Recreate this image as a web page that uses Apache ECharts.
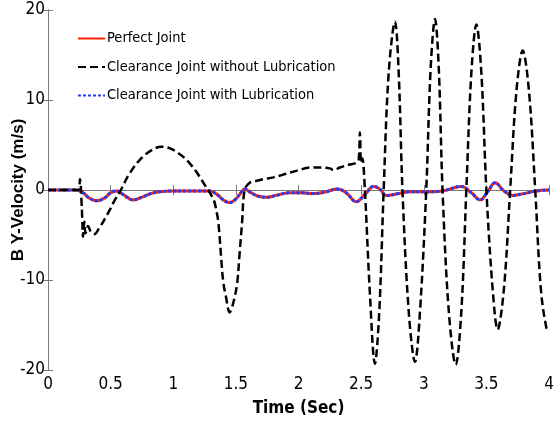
<!DOCTYPE html>
<html>
<head>
<meta charset="utf-8">
<script src="https://cdn.jsdelivr.net/npm/echarts@6/dist/echarts.min.js"></script>
<style>
  html, body { margin: 0; padding: 0; background: #fff; }
  #chart { width: 554px; height: 425px; }
</style>
</head>
<body>
<div id="chart"></div>
<script>
// Time samples (s) and Y-velocity of point B (m/s)
const timePerfect = [0, 0.22, 0.28, 0.33, 0.39, 0.45, 0.50, 0.55, 0.60, 0.68, 0.75, 0.82, 0.89, 1.0, 1.1, 1.2, 1.29, 1.35, 1.40, 1.45, 1.50, 1.54, 1.57, 1.62, 1.68, 1.75, 1.82, 1.93, 2.02, 2.12, 2.22, 2.31, 2.38, 2.46, 2.53, 2.60, 2.65, 2.70, 2.80, 2.89, 3.0, 3.15, 3.30, 3.38, 3.45, 3.51, 3.57, 3.64, 3.71, 3.80, 3.90, 4.0];
const velPerfect  = [0, 0, -0.3, -0.9, -1.2, -0.9, -0.3, -0.1, -0.5, -1.1, -0.8, -0.4, -0.2, -0.1, -0.1, -0.1, -0.1, -0.5, -1.1, -1.4, -1.0, -0.3, 0.1, -0.3, -0.7, -0.8, -0.6, -0.3, -0.3, -0.4, -0.2, 0.1, -0.3, -1.3, -0.5, 0.4, 0.1, -0.6, -0.4, -0.2, -0.2, -0.1, 0.4, -0.3, -1.1, -0.2, 0.8, -0.1, -0.6, -0.4, -0.1, 0];

// Lubricated clearance joint follows the ideal joint response
const timeLub = timePerfect;
const velLub  = velPerfect;

const timeDry = [0, 0.24, 0.255, 0.27, 0.28, 0.29, 0.30, 0.32, 0.34, 0.37, 0.41, 0.45, 0.49, 0.53, 0.57, 0.65, 0.75, 0.85, 0.91, 0.98, 1.05, 1.11, 1.18, 1.25, 1.32, 1.34, 1.36, 1.385, 1.40, 1.42, 1.45, 1.48, 1.51, 1.53, 1.55, 1.57, 1.61, 1.66, 1.72, 1.80, 1.90, 2.00, 2.09, 2.18, 2.25, 2.28, 2.33, 2.40, 2.46, 2.48, 2.49, 2.50, 2.51, 2.53, 2.57, 2.61, 2.645, 2.68, 2.72, 2.77, 2.80, 2.83, 2.88, 2.93, 2.97, 3.02, 3.055, 3.09, 3.12, 3.15, 3.20, 3.255, 3.30, 3.34, 3.38, 3.42, 3.46, 3.50, 3.55, 3.59, 3.64, 3.69, 3.74, 3.79, 3.84, 3.89, 3.935, 3.98, 4.0];
const velDry  = [0, 0, 1.2, -2.0, -5.2, -3.5, -4.8, -4.0, -4.6, -4.9, -4.2, -3.3, -2.3, -1.2, -0.3, 1.8, 3.6, 4.6, 4.8, 4.6, 4.0, 3.3, 2.1, 0.6, -1.0, -2.0, -3.6, -8.0, -10.3, -11.8, -13.6, -12.5, -10.4, -7.0, -3.5, 0, 0.8, 1.0, 1.2, 1.4, 1.8, 2.2, 2.5, 2.5, 2.4, 2.2, 2.5, 2.8, 3.0, 3.3, 6.4, 3.0, 3.5, 0, -11.5, -19.3, -13.5, 0, 13, 18.7, 13, 0, -13.5, -19.1, -13.5, 0, 13.5, 19.0, 13.5, 0, -13.5, -19.4, -13.5, 0, 13, 18.4, 13, 0, -11, -15.5, -11, 0, 11, 15.5, 11, 0, -11, -15.4, -15.6];

const xTicks = { min: 0, max: 4, step: 0.5 };
const yTicks = { min: -20, max: 20, step: 10 };

const pairs = (t, v) => t.map((x, i) => [x, v[i]]);

const axisGrey = '#7a7a7a';
const narrow = '"DejaVu Sans Condensed", "Liberation Sans Narrow", "Liberation Sans", Arial, sans-serif';

const chart = echarts.init(document.getElementById('chart'), null, { renderer: 'canvas' });

chart.setOption({
  animation: false,
  backgroundColor: '#ffffff',
  grid: { left: 48, right: 5, top: 10, bottom: 55, containLabel: false, outerBoundsMode: 'none' },
  legend: {
    orient: 'vertical',
    left: 72,
    top: 26,
    itemWidth: 27,
    itemHeight: 14,
    itemGap: 13.5,
    itemStyle: { opacity: 0 },
    textStyle: { fontFamily: narrow, fontSize: 14.5, color: '#000', padding: [0, 0, 0, -3] },
    data: [
      { name: 'Perfect Joint' },
      { name: 'Clearance Joint without Lubrication' },
      { name: 'Clearance Joint with Lubrication' }
    ]
  },
  xAxis: [
    {
      type: 'value', min: xTicks.min, max: xTicks.max, interval: xTicks.step,
      name: 'Time (Sec)', nameLocation: 'middle', nameGap: 30, nameMoveOverlap: false,
      nameTextStyle: { fontFamily: narrow, fontSize: 17, fontWeight: 'bold', color: '#000' },
      axisLine: { lineStyle: { color: axisGrey, width: 1 } },
      axisTick: { inside: true, length: 5, lineStyle: { color: axisGrey } },
      axisLabel: { fontFamily: narrow, fontSize: 17, color: '#000', margin: 6 },
      splitLine: { show: false }
    },
    {
      type: 'value', position: 'top', min: xTicks.min, max: xTicks.max, interval: xTicks.step,
      axisLine: { lineStyle: { color: axisGrey, width: 1 } },
      axisTick: { inside: true, length: 5, lineStyle: { color: axisGrey } },
      axisLabel: { show: false },
      splitLine: { show: false }
    }
  ],
  yAxis: [
    {
      type: 'value', min: yTicks.min, max: yTicks.max, interval: yTicks.step,
      name: 'B Y-Velocity (m/s)', nameLocation: 'middle', nameGap: 21, nameMoveOverlap: false,
      nameTextStyle: { fontFamily: '"Liberation Sans", Arial, sans-serif', fontSize: 17, fontWeight: 'bold', color: '#000' },
      axisLine: { show: true, lineStyle: { color: axisGrey, width: 1 } },
      axisTick: { show: true, inside: true, length: 5, lineStyle: { color: axisGrey } },
      axisLabel: { fontFamily: narrow, fontSize: 17, color: '#000', margin: 3 },
      splitLine: { show: false }
    },
    {
      type: 'value', position: 'right', min: yTicks.min, max: yTicks.max, interval: yTicks.step,
      axisLine: { show: true, lineStyle: { color: axisGrey, width: 1 } },
      axisTick: { show: true, inside: true, length: 5, lineStyle: { color: axisGrey } },
      axisLabel: { show: false },
      splitLine: { show: false }
    }
  ],
  series: [
    {
      name: 'Perfect Joint', type: 'line', z: 2,
      data: pairs(timePerfect, velPerfect),
      symbol: 'none', smooth: 0.4,
      color: '#ff2200',
      lineStyle: { color: '#ff2200', width: 3, type: 'solid' }
    },
    {
      name: 'Clearance Joint without Lubrication', type: 'line', z: 4,
      data: pairs(timeDry, velDry),
      symbol: 'none', smooth: 0.35,
      color: '#000000',
      lineStyle: { color: '#000000', width: 2.5, type: [8, 4] }
    },
    {
      name: 'Clearance Joint with Lubrication', type: 'line', z: 3,
      data: pairs(timeLub, velLub),
      symbol: 'none', smooth: 0.4,
      color: '#1f3cff',
      lineStyle: { color: '#1f3cff', width: 3, type: [3, 2] }
    }
  ]
});
</script>
</body>
</html>
